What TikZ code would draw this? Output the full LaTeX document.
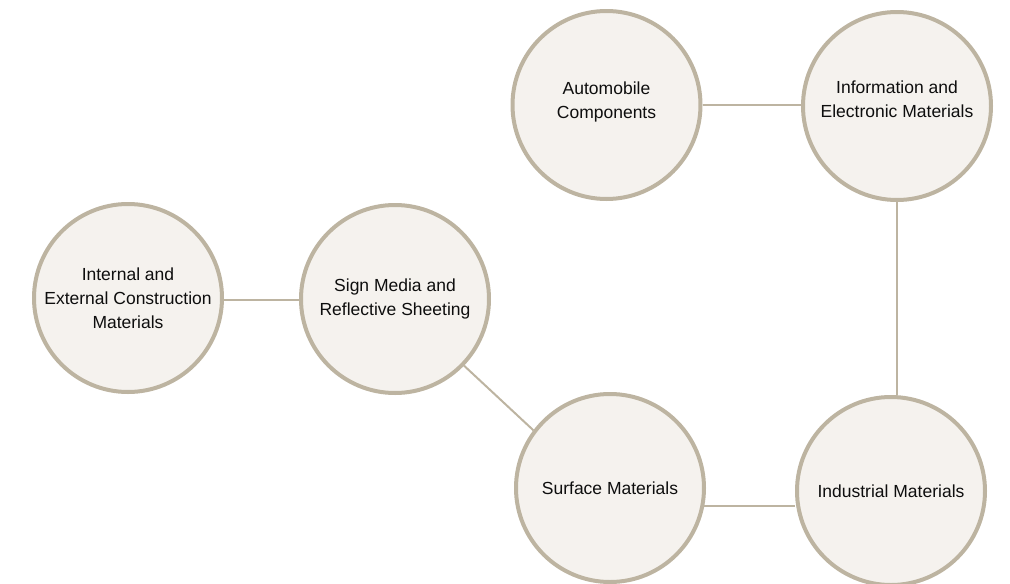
\documentclass[tikz,border=0pt]{standalone}
\usepackage{fontspec}
\setmainfont{Liberation Sans}
\usetikzlibrary{backgrounds}

\definecolor{ringcol}{HTML}{BDB4A1}
\definecolor{discfill}{HTML}{F5F2EE}
\definecolor{inkcol}{HTML}{0E0E0E}

\tikzset{
  topic/.style={circle, draw=ringcol, line width=4pt, fill=discfill,
    minimum size=188pt, inner sep=0pt, align=center, text=inkcol,
    font=\fontsize{17.5pt}{24pt}\selectfont},
  link/.style={draw=ringcol, line width=2pt}
}

\begin{document}
\begin{tikzpicture}[x=1pt, y=-1pt]
  \useasboundingbox (0,0) rectangle (1010,584);

  % material areas
  \node[topic, text depth=9pt] (auto) at (606.5,105) {Automobile\\Components};
  \node[topic, text depth=14pt] (info) at (897,106) {Information and\\Electronic Materials};
  \node[topic] (cons) at (128,298) {Internal and\\External Construction\\Materials};
  \node[topic] (sign) at (395,299) {Sign Media and\\Reflective Sheeting};
  \node[topic] (surf) at (610,488) {Surface Materials};
  \node[topic] (ind)  at (891,491) {Industrial Materials};

  % links between areas
  \begin{scope}[on background layer]
    \draw[link] (auto.east) -- (auto.east -| info.west);
    \draw[link] (info.south) -- (info.south |- ind.north);
    \draw[link] (cons.-1.5) -- (cons.-1.5 -| sign.west);
    \draw[link] (sign.-44.6) -- (surf.143.4);
    \draw[link] (surf.-11.4) -- (surf.-11.4 -| ind.west);
  \end{scope}
\end{tikzpicture}
\end{document}
